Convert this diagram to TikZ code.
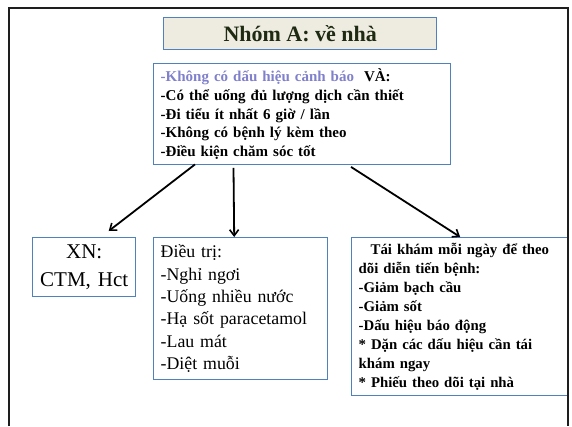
\documentclass[tikz,border=0pt]{standalone}
\usepackage{fontspec}
\setmainfont{Liberation Serif}
\usetikzlibrary{arrows.meta}
\definecolor{boxblue}{HTML}{4F81BD}
\definecolor{titlefill}{HTML}{EEECE1}
\definecolor{titleink}{HTML}{1E2A12}
\definecolor{warnink}{HTML}{8080CC}
\definecolor{frameink}{HTML}{1E1E1E}

\begin{document}
\begin{tikzpicture}[x=1pt,y=-1pt,
  panel/.style={draw=boxblue, line width=1.4pt, inner xsep=7pt, inner ysep=0pt,
                anchor=north west, text=black},
  conn/.style={line width=1.8pt, -{Straight Barb[length=6pt,width=9pt,line width=1.6pt]}},
]
\useasboundingbox (0,0) rectangle (572,426);
\fill[white] (0,0) rectangle (572,426);

% heading
\node[panel, fill=titlefill, minimum width=273pt, minimum height=32pt,
      font=\fontsize{22}{26}\selectfont\bfseries, text=titleink] (title) at (163,17)
      {Nhóm A: về nhà};

% conditions for home care
\node[panel, minimum width=297pt, minimum height=101pt, text width=283pt,
      align=left, font=\fontsize{15}{18.8}\selectfont\bfseries] (cond) at (153,63)
      {\textcolor{warnink}{-Không có dấu hiệu cảnh báo}\ \ VÀ:\\
       -Có thể uống đủ lượng dịch cần thiết\\
       -Đi tiểu ít nhất 6 giờ / lần\\
       -Không có bệnh lý kèm theo\\
       -Điều kiện chăm sóc tốt};

% tests
\node[panel, minimum width=103pt, minimum height=59pt, text width=89pt, align=center,
      font=\fontsize{21}{28}\selectfont] (xn) at (32,237)
      {XN:\\ CTM, Hct};

% treatment
\node[panel, minimum width=174pt, minimum height=142pt, text width=160pt, align=left,
      font=\fontsize{17.8}{22.4}\selectfont] (dt) at (153,237)
      {Điều trị:\\
       -Nghỉ ngơi\\
       -Uống nhiều nước\\
       -Hạ sốt paracetamol\\
       -Lau mát\\
       -Diệt muỗi};

% follow-up
\node[panel, minimum width=217pt, minimum height=158pt, text width=203pt,
      align=left, font=\fontsize{14.8}{18.9}\selectfont\bfseries] (tk) at (351,237)
      {\hspace*{12pt}Tái khám mỗi ngày để theo\\
       dõi diễn tiến bệnh:\\
       -Giảm bạch cầu\\
       -Giảm sốt\\
       -Dấu hiệu báo động\\
       {*} Dặn các dấu hiệu cần tái\\
       khám ngay\\
       {*} Phiếu theo dõi tại nhà};

% connectors
\draw[conn] ([xshift=42pt,yshift=1pt]cond.south west) -- ([xshift=24.5pt,yshift=6pt]xn.north);
\draw[conn] ([xshift=80.5pt,yshift=-2.5pt]cond.south west) -- ([xshift=-6.5pt]dt.north);
\draw[conn] ([xshift=198pt,yshift=-1.5pt]cond.south west) -- (tk.north);

% slide frame, open at the bottom
\draw[frameink, line width=2.5pt] (9,426) -- (9,8) -- (568,8) -- (568,426);
\end{tikzpicture}
\end{document}
